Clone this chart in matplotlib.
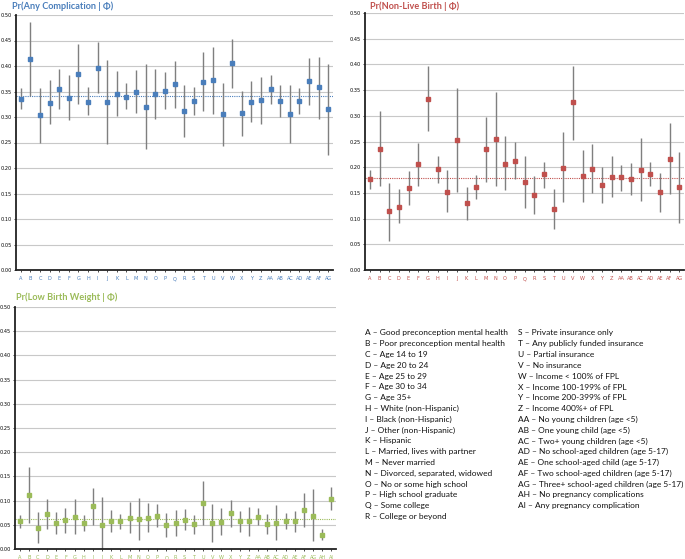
import matplotlib
matplotlib.use("Agg")
import matplotlib.pyplot as plt
import numpy as np

plt.rcParams["font.family"] = ["Lato", "DejaVu Sans"]

W, H = 685, 559

letters_33 = ["A", "B", "C", "D", "E", "F", "G", "H", "I", "J", "K", "L", "M", "N", "O", "P",
              "Q", "R", "S", "T", "U", "V", "W", "X", "Y", "Z",
              "AA", "AB", "AC", "AD", "AE", "AF", "AG"]
letters_35 = letters_33 + ["AH", "AI"]

# Pr(Any Complication | Φ)
comp_mean = [0.335, 0.413, 0.304, 0.328, 0.355, 0.338, 0.384, 0.330, 0.396, 0.330, 0.345,
             0.340, 0.350, 0.320, 0.345, 0.351, 0.364, 0.312, 0.331, 0.369, 0.372, 0.305,
             0.405, 0.307, 0.330, 0.333, 0.354, 0.331, 0.306, 0.332, 0.370, 0.358, 0.315]
comp_lo = [0.315, 0.341, 0.250, 0.286, 0.316, 0.294, 0.325, 0.303, 0.347, 0.248, 0.302,
           0.315, 0.308, 0.238, 0.296, 0.315, 0.317, 0.261, 0.304, 0.312, 0.305, 0.243,
           0.356, 0.263, 0.290, 0.287, 0.326, 0.300, 0.250, 0.306, 0.323, 0.297, 0.225]
comp_hi = [0.357, 0.487, 0.357, 0.373, 0.395, 0.382, 0.444, 0.358, 0.448, 0.411, 0.390,
           0.367, 0.393, 0.404, 0.394, 0.388, 0.410, 0.363, 0.358, 0.427, 0.437, 0.367,
           0.452, 0.351, 0.371, 0.378, 0.382, 0.363, 0.362, 0.357, 0.416, 0.418, 0.404]
comp_ref = 0.342

# Pr(Non-Live Birth | Φ)
nlb_mean = [0.177, 0.236, 0.114, 0.123, 0.160, 0.206, 0.333, 0.196, 0.152, 0.253, 0.130,
            0.162, 0.236, 0.255, 0.207, 0.212, 0.171, 0.145, 0.186, 0.118, 0.199, 0.326,
            0.183, 0.197, 0.166, 0.181, 0.180, 0.177, 0.195, 0.187, 0.151, 0.216, 0.162]
nlb_lo = [0.158, 0.164, 0.057, 0.091, 0.127, 0.164, 0.271, 0.169, 0.112, 0.152, 0.097,
          0.139, 0.172, 0.164, 0.156, 0.177, 0.120, 0.108, 0.160, 0.079, 0.132, 0.253,
          0.132, 0.149, 0.131, 0.142, 0.154, 0.146, 0.134, 0.164, 0.113, 0.147, 0.092]
nlb_hi = [0.195, 0.310, 0.170, 0.158, 0.193, 0.248, 0.396, 0.222, 0.194, 0.354, 0.161,
          0.185, 0.298, 0.347, 0.260, 0.250, 0.222, 0.182, 0.211, 0.158, 0.268, 0.397,
          0.234, 0.245, 0.200, 0.221, 0.205, 0.209, 0.256, 0.210, 0.188, 0.286, 0.230]
nlb_ref = 0.179

# Pr(Low Birth Weight | Φ)
lbw_mean = [0.057, 0.111, 0.044, 0.072, 0.053, 0.059, 0.067, 0.054, 0.088, 0.049, 0.057,
            0.057, 0.065, 0.062, 0.065, 0.069, 0.049, 0.054, 0.060, 0.052, 0.095, 0.054,
            0.056, 0.074, 0.057, 0.058, 0.067, 0.052, 0.054, 0.058, 0.057, 0.080, 0.069,
            0.029, 0.104]
lbw_lo = [0.043, 0.053, 0.012, 0.041, 0.030, 0.034, 0.032, 0.038, 0.049, 0.000, 0.035,
          0.042, 0.034, 0.019, 0.036, 0.046, 0.025, 0.027, 0.040, 0.031, 0.050, 0.014,
          0.029, 0.046, 0.035, 0.027, 0.049, 0.030, 0.018, 0.041, 0.036, 0.045, 0.016,
          0.018, 0.080]
lbw_hi = [0.070, 0.170, 0.076, 0.103, 0.076, 0.084, 0.103, 0.071, 0.127, 0.107, 0.081,
          0.073, 0.097, 0.106, 0.095, 0.093, 0.074, 0.080, 0.082, 0.071, 0.141, 0.093,
          0.084, 0.101, 0.078, 0.087, 0.084, 0.073, 0.090, 0.074, 0.078, 0.115, 0.123,
          0.041, 0.128]
lbw_ref = 0.061

legend_left = [
    "A \u2013 Good preconception mental health",
    "B \u2013 Poor preconception mental health",
    "C \u2013 Age 14 to 19",
    "D \u2013 Age 20 to 24",
    "E \u2013 Age 25 to 29",
    "F \u2013 Age 30 to 34",
    "G \u2013 Age 35+",
    "H \u2013 White (non-Hispanic)",
    "I \u2013 Black (non-Hispanic)",
    "J \u2013 Other (non-Hispanic)",
    "K \u2013 Hispanic",
    "L \u2013 Married, lives with partner",
    "M \u2013 Never married",
    "N \u2013 Divorced, separated, widowed",
    "O \u2013 No or some high school",
    "P \u2013 High school graduate",
    "Q \u2013 Some college",
    "R \u2013 College or beyond",
]
legend_right = [
    "S \u2013 Private insurance only",
    "T \u2013 Any publicly funded insurance",
    "U \u2013 Partial insurance",
    "V \u2013 No insurance",
    "W \u2013 Income < 100% of FPL",
    "X \u2013 Income 100-199% of FPL",
    "Y \u2013 Income 200-399% of FPL",
    "Z \u2013 Income 400%+ of FPL",
    "AA \u2013 No young children (age <5)",
    "AB \u2013 One young child (age <5)",
    "AC \u2013 Two+ young children (age <5)",
    "AD \u2013 No school-aged children (age 5-17)",
    "AE \u2013 One school-aged child (age 5-17)",
    "AF \u2013 Two school-aged children (age 5-17)",
    "AG \u2013 Three+ school-aged children (age 5-17)",
    "AH \u2013 No pregnancy complications",
    "AI \u2013 Any pregnancy complication",
]

BLUE = "#4a7ebb"
RED = "#c0504d"
GREEN = "#9bbb59"
BAR = "#7f7f7f"
TICK_FONT = ["DejaVu Sans"]


def px_axes(fig, left, top, right, bottom):
    """像素框 -> figure 坐标的 axes。"""
    return fig.add_axes([left / W, 1 - bottom / H, (right - left) / W, (bottom - top) / H])


def panel(ax, labels, mean, lo, hi, ref, color, title, title_xy):
    x = np.arange(len(labels))
    mean = np.asarray(mean)
    err = [mean - np.asarray(lo), np.asarray(hi) - mean]
    ax.errorbar(x, mean, yerr=err, fmt="none", ecolor=BAR, elinewidth=1.0, capsize=0, zorder=2)
    ax.plot(x, mean, "s", color=color, markersize=3.5, zorder=3)
    ax.axhline(ref, color=color, linestyle=(0, (1, 1)), linewidth=0.8, zorder=1)
    ax.set_xlim(-0.5, len(labels) - 0.5)
    ax.set_ylim(0, 0.5)
    yt = np.arange(0, 0.51, 0.05)
    ax.set_yticks(yt)
    ax.set_yticklabels([f"{v:.2f}" for v in yt], family=TICK_FONT, fontsize=3.6)
    ax.set_xticks(x)
    ax.set_xticklabels(labels, color=color, family=TICK_FONT, fontsize=3.6)
    ax.tick_params(axis="x", length=1.5, width=0.5, pad=3)
    ax.tick_params(axis="y", length=1.5, width=0.5, pad=1.5)
    for v in yt[1:]:
        ax.axhline(v, color="#c8c8c8", linewidth=0.8, zorder=0)
    for s in ("top", "right"):
        ax.spines[s].set_visible(False)
    for s in ("left", "bottom"):
        ax.spines[s].set_linewidth(1.3)
        ax.spines[s].set_color("#222222")
    fig.text(title_xy[0] / W, 1 - title_xy[1] / H, title, color=color, fontsize=6.6,
             fontweight="bold", ha="left", va="center")


fig = plt.figure(figsize=(W / 100, H / 100), dpi=100)

ax1 = px_axes(fig, 16, 15, 333, 270)
panel(ax1, letters_33, comp_mean, comp_lo, comp_hi, comp_ref, BLUE,
      "Pr(Any Complication | \u03a6)", (12, 6))

ax2 = px_axes(fig, 365, 13, 684, 270)
panel(ax2, letters_33, nlb_mean, nlb_lo, nlb_hi, nlb_ref, RED,
      "Pr(Non-Live Birth | \u03a6)", (370, 6))

ax3 = px_axes(fig, 15, 307, 336, 549)
panel(ax3, letters_35, lbw_mean, lbw_lo, lbw_hi, lbw_ref, GREEN,
      "Pr(Low Birth Weight | \u03a6)", (16, 297))

# 字母说明，两列
y0, step = 333, 10.8
for i, t in enumerate(legend_left):
    fig.text(365 / W, 1 - (y0 + i * step) / H, t, fontsize=6.0, ha="left", va="center",
             color="#111111")
for i, t in enumerate(legend_right):
    fig.text(518 / W, 1 - (y0 + i * step) / H, t, fontsize=6.0, ha="left", va="center",
             color="#111111")

fig.savefig("out.png", dpi=100, facecolor="white")
